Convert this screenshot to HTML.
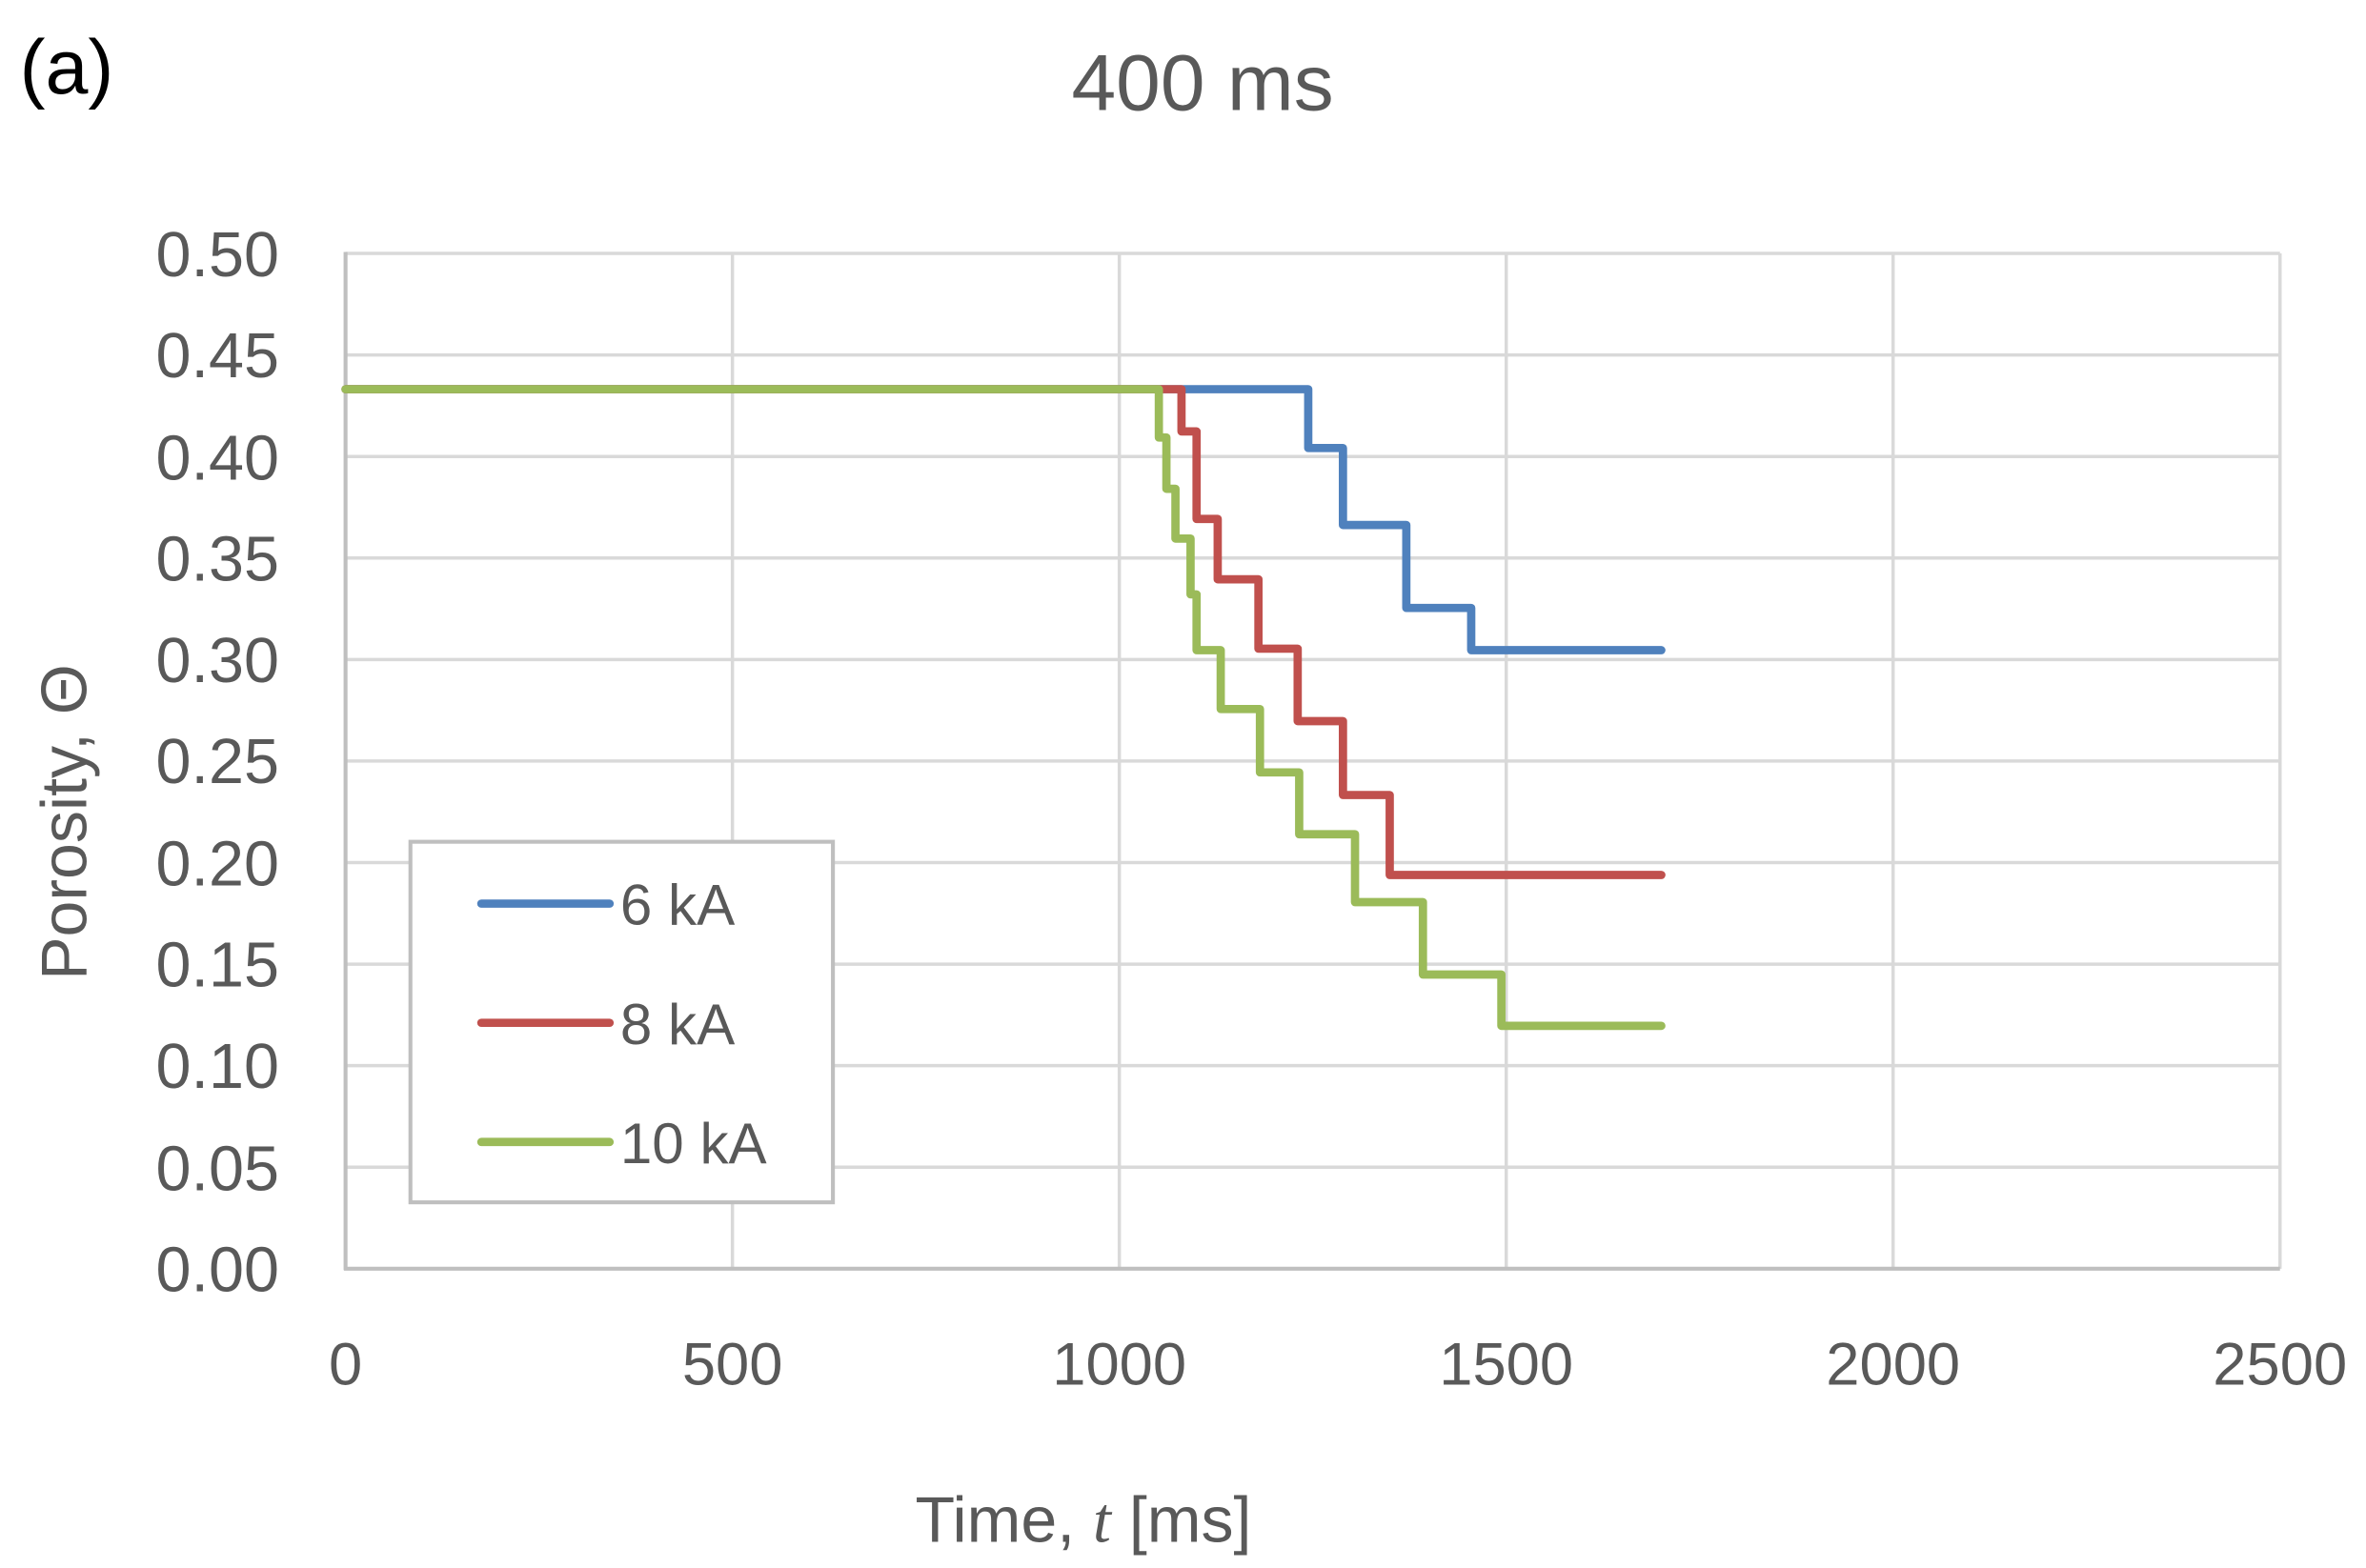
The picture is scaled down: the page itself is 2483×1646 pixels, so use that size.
<!DOCTYPE html>
<html><head><meta charset="utf-8"><style>html,body{margin:0;padding:0;background:#fff}svg{display:block}</style></head>
<body>
<svg width="2483" height="1646" viewBox="0 0 1568 1039.4" preserveAspectRatio="none" xmlns="http://www.w3.org/2000/svg" font-family="'Liberation Sans', sans-serif">
<rect width="1568" height="1040" fill="#fff"/>
<g stroke="#d9d9d9" stroke-width="2.2">
<line x1="229" y1="168" x2="1511" y2="168"/>
<line x1="229" y1="235.3" x2="1511" y2="235.3"/>
<line x1="229" y1="302.6" x2="1511" y2="302.6"/>
<line x1="229" y1="369.9" x2="1511" y2="369.9"/>
<line x1="229" y1="437.2" x2="1511" y2="437.2"/>
<line x1="229" y1="504.5" x2="1511" y2="504.5"/>
<line x1="229" y1="571.8" x2="1511" y2="571.8"/>
<line x1="229" y1="639.1" x2="1511" y2="639.1"/>
<line x1="229" y1="706.4" x2="1511" y2="706.4"/>
<line x1="229" y1="773.7" x2="1511" y2="773.7"/>
<line x1="485.4" y1="168" x2="485.4" y2="841"/>
<line x1="741.8" y1="168" x2="741.8" y2="841"/>
<line x1="998.2" y1="168" x2="998.2" y2="841"/>
<line x1="1254.6" y1="168" x2="1254.6" y2="841"/>
<line x1="1511" y1="168" x2="1511" y2="841"/>
</g>
<g stroke="#bfbfbf" stroke-width="2.6">
<line x1="229" y1="167" x2="229" y2="842"/>
<line x1="228" y1="841" x2="1511" y2="841"/>
</g>
<g fill="none" stroke-width="5.5" stroke-linecap="round" stroke-linejoin="round">
<path stroke="#4f81bd" d="M229,258 H867 V297 H890 V348 H932 V403 H975 V431 H1101"/>
<path stroke="#c0504d" d="M229,258 H783 V286 H793 V344 H807 V384 H834 V430 H860 V478 H890 V527 H921 V580 H1101"/>
<path stroke="#9bbb59" d="M229,258 H768 V290 H773 V324 H779 V357 H789 V394 H793 V431 H809 V470 H835 V512 H861 V553 H898 V598 H943 V646 H995 V680 H1101"/>
</g>
<g fill="#595959" font-size="42" text-anchor="end">
<text x="185" y="183">0.50</text>
<text x="185" y="250">0.45</text>
<text x="185" y="318">0.40</text>
<text x="185" y="385">0.35</text>
<text x="185" y="452">0.30</text>
<text x="185" y="519">0.25</text>
<text x="185" y="587">0.20</text>
<text x="185" y="654">0.15</text>
<text x="185" y="721">0.10</text>
<text x="185" y="789">0.05</text>
<text x="185" y="856">0.00</text>
</g>
<g fill="#595959" font-size="40" text-anchor="middle">
<text x="229" y="918">0</text>
<text x="485.4" y="918">500</text>
<text x="741.8" y="918">1000</text>
<text x="998.2" y="918">1500</text>
<text x="1254.6" y="918">2000</text>
<text x="1511" y="918">2500</text>
<text x="797" y="73" font-size="53">400 ms</text>
<text x="718" y="1022" font-size="43">Time, <tspan font-family="'Liberation Serif', serif" font-style="italic">t</tspan> [ms]</text>
<text transform="translate(57,545) rotate(-90)" font-size="43">Porosity, Θ</text>
</g>
<text x="13" y="62" font-size="51" fill="#000">(a)</text>
<rect x="272" y="558" width="280" height="239" fill="#fff" stroke="#bfbfbf" stroke-width="2.6"/>
<g stroke-width="5.5" stroke-linecap="round">
<line x1="319" y1="599" x2="404" y2="599" stroke="#4f81bd"/>
<line x1="319" y1="678" x2="404" y2="678" stroke="#c0504d"/>
<line x1="319" y1="757" x2="404" y2="757" stroke="#9bbb59"/>
</g>
<g fill="#595959" font-size="38">
<text x="411" y="613">6 kA</text>
<text x="411" y="692">8 kA</text>
<text x="411" y="771">10 kA</text>
</g>
</svg>
</body></html>
